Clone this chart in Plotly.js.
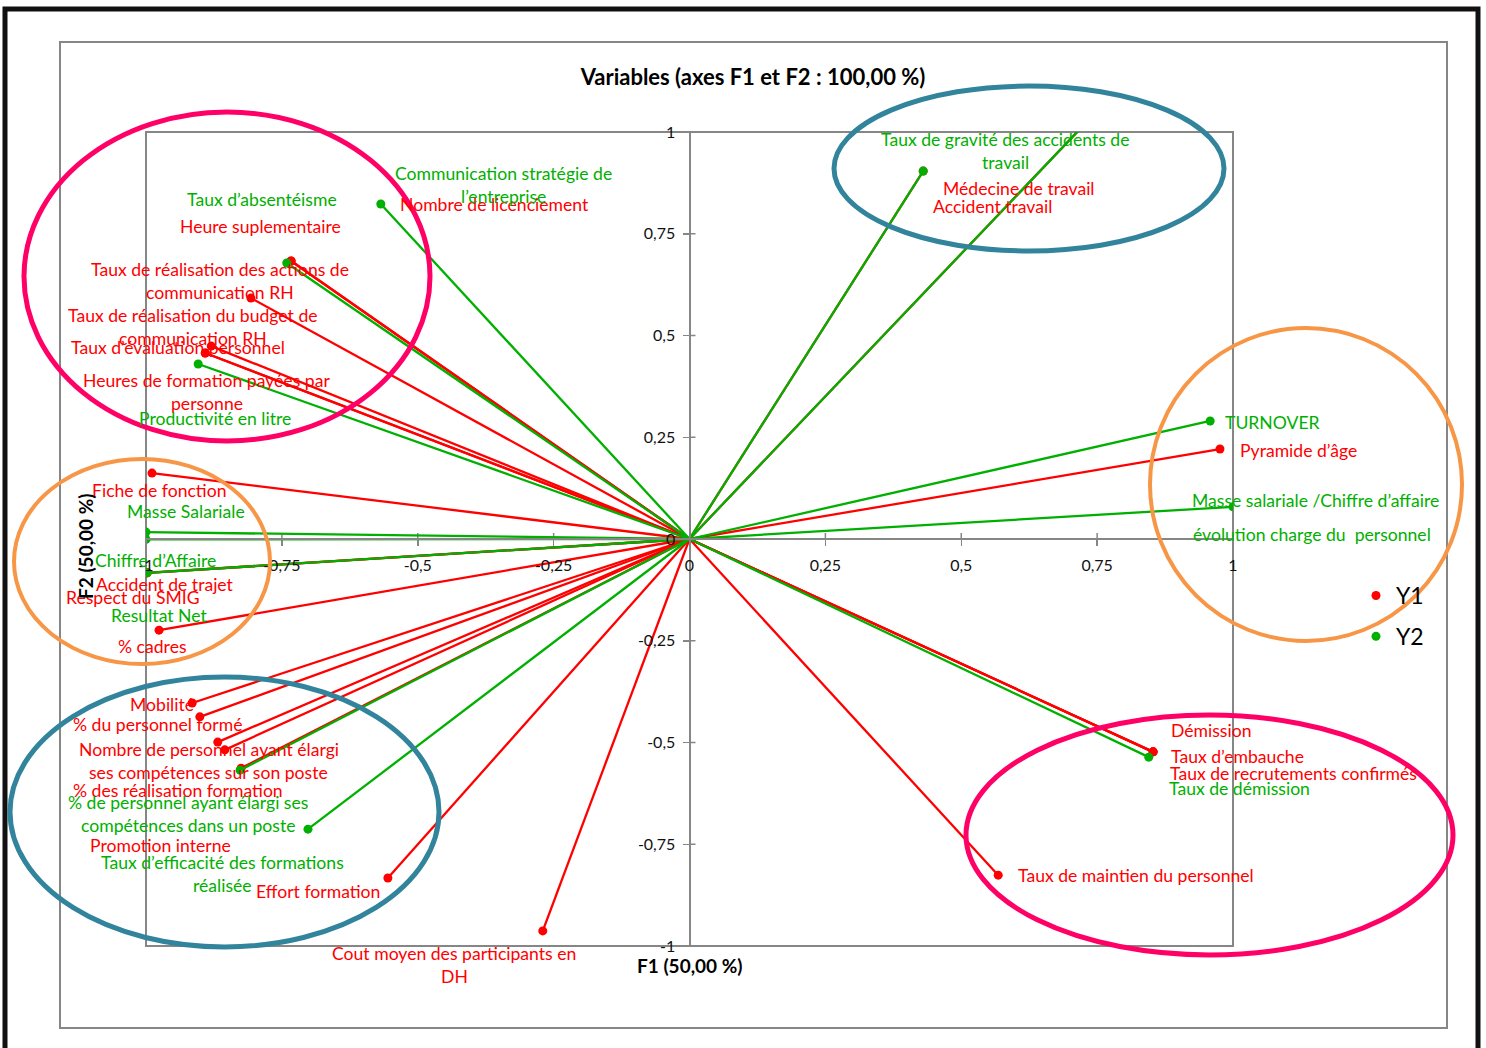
<!DOCTYPE html>
<html><head><meta charset="utf-8">
<script src="https://cdn.plot.ly/plotly-3.0.1.min.js"></script>
<style>html,body{margin:0;padding:0;background:#fff;} #chart{width:1486px;height:1048px;}</style>
</head><body><div id="chart"></div>
<script>
// ---- Data: coordinates of variables on F1 / F2 ----
const y1Names = [
  "Nombre de licenciement", "Heure suplementaire",
  "Taux de réalisation des actions de<br>communication RH",
  "Taux de réalisation du budget de<br>communication RH",
  "Taux d’évaluation personnel",
  "Heures de formation payées par<br>personne",
  "Fiche de fonction", "Accident de trajet", "Respect du SMIG", "% cadres",
  "Mobilité", "% du personnel formé",
  "Nombre de personnel ayant élargi<br>ses compétences sur son poste",
  "% des réalisation formation", "Promotion interne", "Effort formation",
  "Cout moyen des participants en<br>DH",
  "Médecine de travail", "Accident travail", "Pyramide d’âge",
  "Démission", "Taux d’embauche", "Taux de recrutements confirmés",
  "Taux de maintien du personnel"
];
const y1F1 = [-0.733, -0.733, -0.807, -0.880, -0.891, -0.891, -0.989, -0.998, -0.998, -0.976,
  -0.915, -0.901, -0.868, -0.855, -0.825, -0.555, -0.270, 0.749, 0.430, 0.976,
  0.853, 0.853, 0.853, 0.568];
const y1F2 = [0.683, 0.683, 0.592, 0.474, 0.457, 0.457, 0.162, -0.083, -0.083, -0.224,
  -0.403, -0.437, -0.499, -0.518, -0.563, -0.833, -0.963, 1.050, 0.904, 0.221,
  -0.523, -0.523, -0.523, -0.826];

const y2Names = [
  "Communication stratégie de<br>l’entreprise", "Taux d’absentéisme",
  "Productivité en litre", "Masse Salariale", "Chiffre d’Affaire", "Resultat Net",
  "% de personnel ayant élargi ses<br>compétences dans un poste",
  "Taux d’efficacité des formations<br>réalisée",
  "Taux de gravité des accidents de<br>travail",
  "TURNOVER", "Masse salariale /Chiffre d’affaire",
  "évolution charge du  personnel", "Taux de démission"
];
const y2F1 = [-0.568, -0.741, -0.904, -1.000, -0.998, -1.000, -0.827, -0.702, 0.749, 0.958, 1.000, 0.430, 0.845];
const y2F2 = [0.823, 0.678, 0.430, 0.017, -0.083, -0.001, -0.568, -0.713, 1.050, 0.290, 0.079, 0.904, -0.536];

const tickVals = [-1, -0.75, -0.5, -0.25, 0, 0.25, 0.5, 0.75, 1];
const tickText = ["-1", "-0,75", "-0,5", "-0,25", "0", "0,25", "0,5", "0,75", "1"];

// ---- Label placement (in F1/F2 units) ----
const y1LabelF1 = [-0.358, -0.790, -0.864, -0.914, -0.941, -0.888, -0.975, -0.965, -1.023, -0.988,
  -0.971, -0.978, -0.885, -0.941, -0.973, -0.683, -0.433, 0.606, 0.557, 1.121,
  0.960, 1.009, 1.112, 0.821];
const y1LabelF2 = [0.821, 0.767, 0.633, 0.522, 0.470, 0.360, 0.119, -0.113, -0.143, -0.263,
  -0.406, -0.455, -0.545, -0.619, -0.752, -0.867, -1.047, 0.862, 0.818, 0.217,
  -0.471, -0.535, -0.576, -0.826];
const y2LabelF1 = [-0.343, -0.787, -0.873, -0.926, -0.982, -0.976, -0.922, -0.859, 0.581, 1.073, 1.152, 1.145, 1.012];
const y2LabelF2 = [0.869, 0.835, 0.297, 0.067, -0.052, -0.188, -0.676, -0.823, 0.953, 0.286, 0.094, 0.010, -0.613];

const RED = "#FF0000", GREEN = "#00B000", GREY = "#868686";
const FONT = "Lato, 'Open Sans', sans-serif";

function spokes(xs, ys) {
  const X = [], Y = [];
  xs.forEach((v, i) => { X.push(0, v, null); Y.push(0, ys[i], null); });
  return {X, Y};
}
const s1 = spokes(y1F1, y1F2), s2 = spokes(y2F1, y2F2);

const traces = [
  {x: s1.X, y: s1.Y, mode: "lines", line: {color: RED, width: 2.3}, showlegend: false, hoverinfo: "skip", legendgroup: "Y1"},
  {x: y1F1, y: y1F2, text: y1Names, mode: "markers", name: "Y1", legendgroup: "Y1",
   marker: {color: RED, size: 9}, hoverinfo: "text"},
  {x: s2.X, y: s2.Y, mode: "lines", line: {color: GREEN, width: 2.3}, showlegend: false, hoverinfo: "skip", legendgroup: "Y2"},
  {x: y2F1, y: y2F2, text: y2Names, mode: "markers", name: "Y2", legendgroup: "Y2",
   marker: {color: GREEN, size: 9}, hoverinfo: "text"}
];

// ---- layout helpers ----
const W = 1486, H = 1048, L = 146, R = 1233, T = 132, B = 946;
const px = v => (v - L) / (R - L);
const py = v => (B - v) / (B - T);
const f1p = v => (v + 1) / 2;
const f2p = v => (v + 1) / 2;

const annotations = [];
function addLabels(names, lx, ly, color) {
  names.forEach((n, i) => {
    const lines = n.split("<br>");
    lines.forEach((ln, j) => {
      annotations.push({
        xref: "paper", yref: "paper", x: f1p(lx[i]), y: f2p(ly[i]),
        yshift: ((lines.length - 1) / 2 - j) * 23,
        text: ln, showarrow: false, xanchor: "center", yanchor: "middle",
        font: {family: FONT, size: 17.6, color: color}
      });
    });
  });
}
addLabels(y1Names, y1LabelF1, y1LabelF2, RED);
addLabels(y2Names, y2LabelF1, y2LabelF2, GREEN);

annotations.push({xref: "paper", yref: "paper", x: f1p(0), y: py(965), text: "<b>F1 (50,00 %)</b>",
  showarrow: false, xanchor: "center", yanchor: "middle", font: {family: FONT, size: 19, color: "#000"}});
annotations.push({xref: "paper", yref: "paper", x: px(85), y: py(546), text: "<b>F2 (50,00 %)</b>", textangle: -90,
  showarrow: false, xanchor: "center", yanchor: "middle", font: {family: FONT, size: 19, color: "#000"}});

const shapes = [];
// inner halves of cross ticks
tickVals.forEach(v => {
  if (v === 0) return;
  shapes.push({type: "line", xref: "x", yref: "y", x0: v, x1: v, ysizemode: "pixel", yanchor: 0, y0: 0, y1: 6,
    line: {color: GREY, width: 1.5}, layer: "below"});
  shapes.push({type: "line", xref: "x", yref: "y", y0: v, y1: v, xsizemode: "pixel", xanchor: 0, x0: 0, x1: 6,
    line: {color: GREY, width: 1.5}, layer: "below"});
});
// plot area border
shapes.push({type: "rect", xref: "paper", yref: "paper", x0: 0, x1: 1, y0: 0, y1: 1, line: {color: GREY, width: 2}, layer: "below"});
// chart area border
shapes.push({type: "rect", xref: "paper", yref: "paper", x0: px(60), x1: px(1447), y0: py(42), y1: py(1028), line: {color: GREY, width: 2}, layer: "below"});
// outer black frame
shapes.push({type: "rect", xref: "paper", yref: "paper", x0: px(5), x1: px(1478), y0: py(9), y1: py(1060), line: {color: "#111", width: 5}, layer: "below"});
// highlight ellipses (pixel frame)
const ellipses = [
  {x0: 24, x1: 430, y0: 112, y1: 441, c: "#FF0066", w: 5},
  {x0: 834, x1: 1224, y0: 86, y1: 251, c: "#31849B", w: 5},
  {x0: 14, x1: 270, y0: 459, y1: 664, c: "#F79646", w: 4},
  {x0: 1150, x1: 1462, y0: 328, y1: 641, c: "#F79646", w: 4},
  {x0: 10, x1: 439, y0: 677, y1: 947, c: "#31849B", w: 5},
  {x0: 966, x1: 1453, y0: 715, y1: 955, c: "#FF0066", w: 5}
];
ellipses.forEach(e => shapes.push({type: "circle", xref: "paper", yref: "paper",
  x0: px(e.x0), x1: px(e.x1), y0: py(e.y1), y1: py(e.y0), line: {color: e.c, width: e.w}, layer: "above"}));

const axisCommon = {
  range: [-1, 1], tickmode: "array", tickvals: tickVals, ticktext: tickText,
  anchor: "free", position: 0.5, showline: true, linecolor: GREY, linewidth: 2,
  ticks: "outside", ticklen: 6, tickwidth: 1.5, tickcolor: GREY, showgrid: false, zeroline: false,
  tickfont: {family: FONT, size: 16, color: "#111"}, fixedrange: true
};

const layout = {
  width: W, height: H,
  margin: {l: L, r: W - R, t: T, b: H - B, pad: 0},
  paper_bgcolor: "#fff", plot_bgcolor: "#fff",
  font: {family: FONT},
  title: {text: "<b>Variables (axes F1 et F2 : 100,00 %)</b>", xref: "paper", x: px(753), xanchor: "center",
    yref: "container", y: 1 - 77 / H, yanchor: "middle", font: {family: FONT, size: 22, color: "#000"}},
  xaxis: Object.assign({}, axisCommon, {ticklabelstandoff: 6}),
  yaxis: Object.assign({}, axisCommon, {ticklabelstandoff: 4}),
  showlegend: true,
  legend: {x: px(1356), y: py(574), xanchor: "left", yanchor: "top", traceorder: "grouped", tracegroupgap: 8,
    font: {family: FONT, size: 23, color: "#000"}, bgcolor: "rgba(0,0,0,0)"},
  shapes: shapes, annotations: annotations
};

Plotly.newPlot("chart", traces, layout, {displayModeBar: false, staticPlot: true});
</script>
</body></html>
